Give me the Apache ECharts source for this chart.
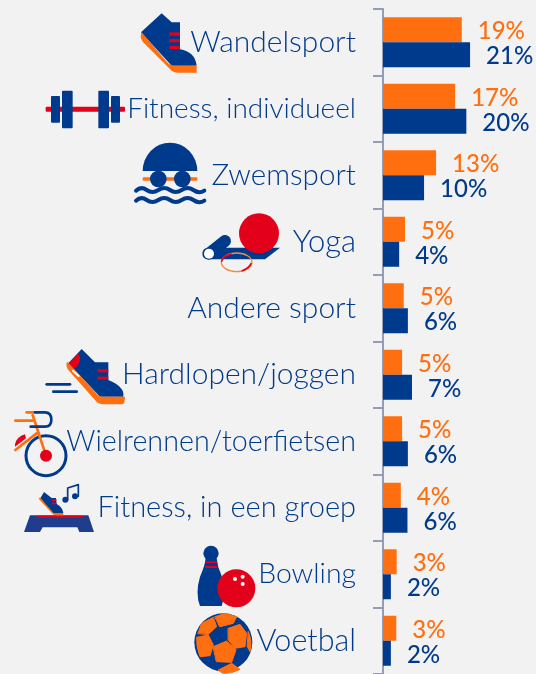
<!DOCTYPE html>
<html><head><meta charset="utf-8">
<style>html,body{margin:0;padding:0;background:#f2f2f2}#c{width:536px;height:674px}</style>
<script src="https://cdn.jsdelivr.net/npm/echarts@6/dist/echarts.min.js"></script>
</head><body><div id="c"></div>
<script>
const categories = ['Wandelsport','Fitness, individueel','Zwemsport','Yoga','Andere sport','Hardlopen/joggen','Wielrennen/toerfietsen','Fitness, in een groep','Bowling','Voetbal'];
const seriesOrange = [19.0,17.4,12.8,5.3,5.0,4.6,4.6,4.3,3.3,3.2];
const seriesBlue = [21.0,20.1,9.9,3.9,6.0,7.0,6.0,5.9,1.9,1.9];
const labelSizes = [30,28,29.6,31,30,30,28.7,29,28.4,30.5];
const NAVY='#003a8c', ORANGE='#ff6f0f', RED='#e2001a', AXIS='#939db6';

let shapeId=0;
function p(d,fill,stroke,w){
  const name='iconPath'+(shapeId++);
  echarts.graphic.registerShape(name,echarts.graphic.extendPath(d,{}));
  return {type:name,style:{fill:fill||'none',stroke:stroke||'none',lineWidth:w||0,lineCap:'round',lineJoin:'round'}};
}
function r(x,y,w,h,fill,rad){return {type:'rect',shape:{x,y,width:w,height:h,r:rad||0},style:{fill}};}
function c(x,y,rad,fill,stroke,w){return {type:'circle',shape:{cx:x,cy:y,r:rad},style:{fill:fill||'none',stroke:stroke||'none',lineWidth:w||0}};}
function icon(x,y,children){return {type:'group',x,y,scaleX:1/3,scaleY:1/3,silent:true,children};}

const icons=[
 icon(0,0,[
  p('M485,40 L515,67 H540 V148 Q585,155 590,197 H515 L423,97 Z',NAVY),
  p('M425,97 Q418,110 428,125 L515,212 Q522,218 535,218 H590 V197 H522 Q512,197 500,185 Z',ORANGE),
  r(508,97,32,10,RED),r(508,117,32,10,RED),r(508,138,32,10,RED),
  r(137,320,238,15,RED,3),
  r(153,288,27,80,NAVY,3),r(186,272,32,113,NAVY,3),r(295,272,32,113,NAVY,3),r(333,288,27,80,NAVY,3),
  p('M428,513 A82,85 0 0 1 592,513 Z',NAVY),
  r(428,532,164,10,ORANGE,3),
  c(475,537,25,NAVY),c(547,537,25,NAVY),
  p('M408,572 Q423,558 440,570 T475,570 T510,570 T545,570 T580,570 T613,572',null,NAVY,12),
  p('M408,602 Q423,588 440,600 T475,600 T510,600 T545,600 T580,600 T613,602',null,NAVY,12)
 ]),
 icon(195,205,[
  p('M42,146 L90,108',null,NAVY,36),
  p('M42,128 H255 L210,163 H42 Q22,163 22,146 Q22,128 42,128 Z',NAVY),
  c(42,146,15,'#fff'),
  c(192,85,60,RED),
  {type:'ellipse',shape:{cx:125,cy:172,rx:46,ry:28},style:{fill:'none',stroke:'#f08a3c',lineWidth:4}},
  p('M80,168 Q86,152 108,147',null,RED,5),
  p('M168,176 Q162,190 142,197',null,RED,5)
 ]),
 icon(40,345,[
  p('M20,118 H90',null,NAVY,8),p('M40,140 H110',null,NAVY,8),
  p('M125,12 L165,52 H205 V105 Q255,125 250,155 H180 L85,55 Z',NAVY),
  p('M85,55 L115,25 Q128,45 110,65 L100,72 Z',RED),
  p('M82,50 Q75,60 85,75 L165,165 Q175,178 190,178 H245 Q255,178 255,155 H190 Q175,155 165,140 Z',ORANGE),
  r(172,73,33,9,RED),r(172,95,33,9,RED),
  p('M99,77 L116,93',null,'#fff',6)
 ]),
 icon(10,405,[
  p('M16,135 L80,85',null,ORANGE,8),
  p('M15,118 Q20,95 45,88 L48,100 L15,125 Z',RED),
  c(108,152,60,null,NAVY,9),
  p('M68,30 L108,152',null,ORANGE,8),
  p('M50,22 H75',null,ORANGE,8),
  p('M16,47 H68',null,ORANGE,8),
  p('M75,22 H105 Q124,22 124,44 Q124,65 105,65 H62',null,NAVY,8),
  c(108,152,18,RED)
 ]),
 icon(20,478,[
  p('M30,112 H205 L222,162 H178 L172,148 H68 L60,162 H12 Z','#1f3d8c'),
  r(52,113,137,6,RED),
  p('M72,42 L95,60 H108 L110,78 Q128,88 130,105 H100 L60,62 Z',NAVY),
  p('M56,62 L95,105 Q100,112 110,112 H130 V105 H100 L60,58 Z',ORANGE),
  r(95,64,14,5,RED),r(95,74,14,5,RED),
  c(136,65,9,NAVY),c(165,55,9,NAVY),
  p('M143,65 V30 L175,20 V55',null,NAVY,5)
 ]),
 icon(0,340,[
  c(633,640,23,NAVY),
  p('M617,655 H650 Q652,680 664,705 Q680,760 665,798 H600 Q585,760 600,710 Q614,680 617,655 Z',NAVY),
  r(617,664,33,5,RED),r(615,678,37,6,RED),
  c(709,745,57,RED),
  c(705,717,6,'#fff'),c(728,710,6,'#fff'),c(728,732,6,'#fff')
 ]),
 icon(190,605,[
  c(100,112,87,NAVY),
  p('M75,35 L105,25 L140,35 L130,55 L90,65 Z',ORANGE,ORANGE,3),
  p('M24,85 L35,55 L70,37 L80,65 L55,88 Z',ORANGE,ORANGE,3),
  p('M115,70 L150,58 L170,85 L165,125 L135,130 L115,105 Z',ORANGE,ORANGE,3),
  p('M70,125 L110,108 L138,135 L125,172 L80,170 Z',ORANGE,ORANGE,3),
  p('M20,97 L55,90 L70,120 L60,152 L30,155 Q18,125 20,97 Z',ORANGE,ORANGE,3),
  p('M85,195 L125,175 L150,193 Q125,207 100,205 Z',ORANGE,ORANGE,3),
  p('M175,80 Q188,110 180,140 L172,125 Z',ORANGE,ORANGE,3)
 ])
];

const labelBase={show:true,position:'right',distance:16,offset:[0,2],fontFamily:'Lato',fontSize:24,fontWeight:500,
  formatter:q=>Math.round(q.value)+'%'};
const chart=echarts.init(document.getElementById('c'),null,{renderer:'canvas'});
chart.setOption({
 animation:false,
 backgroundColor:'#f2f2f2',
 grid:{left:383,right:0,top:9,bottom:-2,containLabel:false},
 xAxis:{type:'value',min:0,max:36.9,show:false},
 yAxis:{type:'category',inverse:true,
  data:categories.map((v,i)=>({value:v,textStyle:{fontSize:labelSizes[i]}})),
  axisLine:{lineStyle:{color:AXIS,width:2}},
  axisTick:{show:true,alignWithLabel:false,length:10,lineStyle:{color:AXIS,width:2}},
  axisLabel:{color:NAVY,fontFamily:'Lato',fontWeight:300,margin:27,padding:[3,0,0,0]}},
 series:[
  {type:'bar',data:seriesOrange,barWidth:25,barGap:0,itemStyle:{color:ORANGE},label:{...labelBase,color:ORANGE}},
  {type:'bar',data:seriesBlue,barWidth:25,barGap:0,itemStyle:{color:NAVY},label:{...labelBase,color:NAVY}}
 ],
 graphic:{elements:icons}
});
</script></body></html>
